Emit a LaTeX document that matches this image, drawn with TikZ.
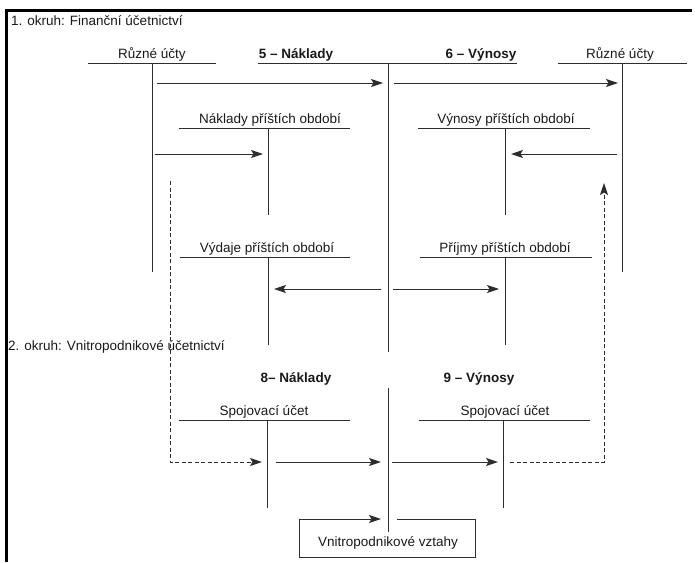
\documentclass[tikz,border=0pt]{standalone}
\usepackage{fontspec}
\setmainfont{Liberation Sans}
\usetikzlibrary{arrows.meta}
\definecolor{linec}{RGB}{45,45,45}
\definecolor{txtc}{RGB}{25,25,25}
\begin{document}
\begin{tikzpicture}[x=1pt,y=-1pt,
  lbl/.style={anchor=base, inner sep=0pt, font=\fontsize{13.5}{16}\selectfont, text=txtc},
  hd/.style={lbl, font=\fontsize{13.5}{16}\selectfont\bfseries},
  acc/.style={draw=linec, line width=1pt},
  arr/.style={draw=linec, line width=1pt, -{Stealth[length=12pt,width=8pt,inset=2.5pt]}},
  dsh/.style={arr, dash pattern=on 4pt off 2.5pt},
  frame/.style={draw=black, line width=3pt}]
\useasboundingbox (0,0) rectangle (695,562);

% frame
\coordinate (fbl) at (6,562);
\coordinate (ftr) at (692,10);
\draw[frame] (fbl) |- (ftr);

% section labels
\node[lbl, anchor=base west] (ok1) at (11,25) {1. okruh: Finanční účetnictví};
\node[lbl, anchor=base west] (ok2) at (8,350) {2. okruh: Vnitropodnikové účetnictví};

% ---- row 1 accounts
\node[lbl] (r1) at (152,58) {Různé účty};
\coordinate (r1l) at (88,63); \coordinate (r1r) at (216,63);
\coordinate (r1t) at (152,63); \coordinate (r1b) at (152,272);
\draw[acc] (r1l) -- (r1r); \draw[acc] (r1t) -- (r1b);

\node[hd] (n5) at (296,58) {5 – Náklady};
\node[hd] (v6) at (481,58) {6 – Výnosy};
\coordinate (m1l) at (258,63); \coordinate (m1r) at (517,63);
\coordinate (m1t) at (388,63); \coordinate (m1b) at (388,352);
\draw[acc] (m1l) -- (m1r); \draw[acc] (m1t) -- (m1b);

\node[lbl] (r2) at (620,58) {Různé účty};
\coordinate (r2l) at (558,63); \coordinate (r2r) at (687,63);
\coordinate (r2t) at (622,63); \coordinate (r2b) at (622,272);
\draw[acc] (r2l) -- (r2r); \draw[acc] (r2t) -- (r2b);

% ---- row 2 accounts
\node[lbl] (npo) at (270,123) {Náklady příštích období};
\coordinate (a1l) at (179,128); \coordinate (a1r) at (350,128);
\coordinate (a1t) at (268,128); \coordinate (a1b) at (268,215);
\draw[acc] (a1l) -- (a1r); \draw[acc] (a1t) -- (a1b);

\node[lbl] (vpo) at (506,123) {Výnosy příštích období};
\coordinate (b1l) at (418,128); \coordinate (b1r) at (590,128);
\coordinate (b1t) at (505,128); \coordinate (b1b) at (505,215);
\draw[acc] (b1l) -- (b1r); \draw[acc] (b1t) -- (b1b);

% ---- row 3 accounts
\node[lbl] (vypo) at (267,252) {Výdaje příštích období};
\coordinate (c1l) at (180,257); \coordinate (c1r) at (350,257);
\coordinate (c1t) at (268,257); \coordinate (c1b) at (268,345);
\draw[acc] (c1l) -- (c1r); \draw[acc] (c1t) -- (c1b);

\node[lbl] (ppo) at (505,252) {Příjmy příštích období};
\coordinate (d1l) at (420,257); \coordinate (d1r) at (592,257);
\coordinate (d1t) at (505,257); \coordinate (d1b) at (505,345);
\draw[acc] (d1l) -- (d1r); \draw[acc] (d1t) -- (d1b);

% ---- arrows section 1
\coordinate (e1s) at (157,83); \coordinate (e1e) at (383,83);
\coordinate (e2s) at (394,83); \coordinate (e2e) at (618,83);
\draw[arr] (e1s) -- (e1e);
\draw[arr] (e2s) -- (e2e);
\coordinate (e3s) at (155,154); \coordinate (e3e) at (263,154);
\coordinate (e4s) at (617,154); \coordinate (e4e) at (511,154);
\draw[arr] (e3s) -- (e3e);
\draw[arr] (e4s) -- (e4e);
\coordinate (e5s) at (381,289); \coordinate (e5e) at (274,289);
\coordinate (e6s) at (393,289); \coordinate (e6e) at (499,289);
\draw[arr] (e5s) -- (e5e);
\draw[arr] (e6s) -- (e6e);

% ---- section 2 accounts
\node[hd] (n8) at (296,382) {8– Náklady};
\node[hd] (v9) at (479,382) {9 – Výnosy};

\node[lbl] (sp1) at (264,415) {Spojovací účet};
\coordinate (s1l) at (179,420); \coordinate (s1r) at (350,420);
\coordinate (s1t) at (267,420); \coordinate (s1b) at (267,508);
\draw[acc] (s1l) -- (s1r); \draw[acc] (s1t) -- (s1b);

\node[lbl] (sp2) at (505,415) {Spojovací účet};
\coordinate (s2l) at (419,420); \coordinate (s2r) at (590,420);
\coordinate (s2t) at (503,420); \coordinate (s2b) at (503,508);
\draw[acc] (s2l) -- (s2r); \draw[acc] (s2t) -- (s2b);

\coordinate (m2t) at (388,388); \coordinate (m2b) at (388,532);
\draw[acc] (m2t) -- (m2b);

% ---- dashed connectors
\coordinate (dl1) at (170,181); \coordinate (dl2) at (262,462);
\draw[dsh] (dl1) |- (dl2);
\coordinate (dr1) at (510,462); \coordinate (dr2) at (604,183);
\draw[dsh] (dr1) -| (dr2);

% ---- arrows section 2
\coordinate (f1s) at (276,462); \coordinate (f1e) at (381,462);
\coordinate (f2s) at (392,462); \coordinate (f2e) at (498,462);
\draw[arr] (f1s) -- (f1e);
\draw[arr] (f2s) -- (f2e);

% ---- box
\coordinate (bxa) at (397,519); \coordinate (bxb) at (475,557);
\coordinate (bxc) at (299,519); \coordinate (bxd) at (381,519);
\draw[arr] (bxa) -| (bxb) -| (bxc) -- (bxd);
\node[lbl] (vv) at (388,546) {Vnitropodnikové vztahy};
\end{tikzpicture}
\end{document}
